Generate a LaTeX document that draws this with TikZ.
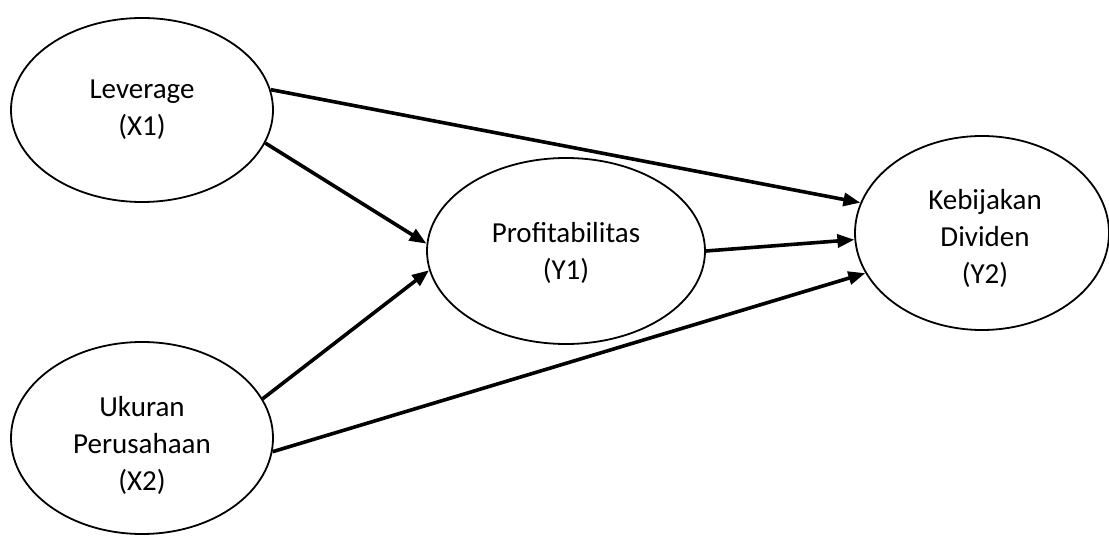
\documentclass[tikz,border=0pt]{standalone}
\usepackage{fontspec}
\setmainfont{Carlito}
\usetikzlibrary{shapes.geometric,arrows.meta}
\begin{document}
\begin{tikzpicture}[x=1pt,y=-1pt,
  var/.style={ellipse,draw=black,line width=1.8pt,inner sep=0pt},
  lbl/.style={inner sep=0pt,align=center,font=\fontsize{29}{37}\selectfont},
  link/.style={line width=3.6pt,-{Triangle[length=17pt,width=13pt]}}]
\useasboundingbox (0,0) rectangle (1109,537);
\node[var,minimum width=262pt,minimum height=184pt] (lev) at (142,110) {};
\node[var,minimum width=262pt,minimum height=192pt] (ukr) at (142,438) {};
\node[var,minimum width=278pt,minimum height=186pt] (prof) at (566,251) {};
\node[var,minimum width=254pt,minimum height=194pt] (keb) at (982,233) {};
\node[lbl] (levt) at ([yshift=0pt]lev.center) {Leverage\\(X1)};
\node[lbl] (ukrt) at ([yshift=-7pt]ukr.center) {Ukuran\\Perusahaan\\(X2)};
\node[lbl] (proft) at ([yshift=-2pt]prof.center) {Profitabilitas\\(Y1)};
\node[lbl] (kebt) at ([yshift=-5pt,xshift=3pt]keb.center) {Kebijakan\\Dividen\\(Y2)};
\draw[link] (lev.9) -- (keb.166);
\draw[link] (lev.-15) -- (prof.177);
\draw[link] (ukr.18) -- (prof.188);
\draw[link] (ukr.-6) -- (keb.199);
\draw[link] (prof.0) -- (keb.183);
\end{tikzpicture}
\end{document}
